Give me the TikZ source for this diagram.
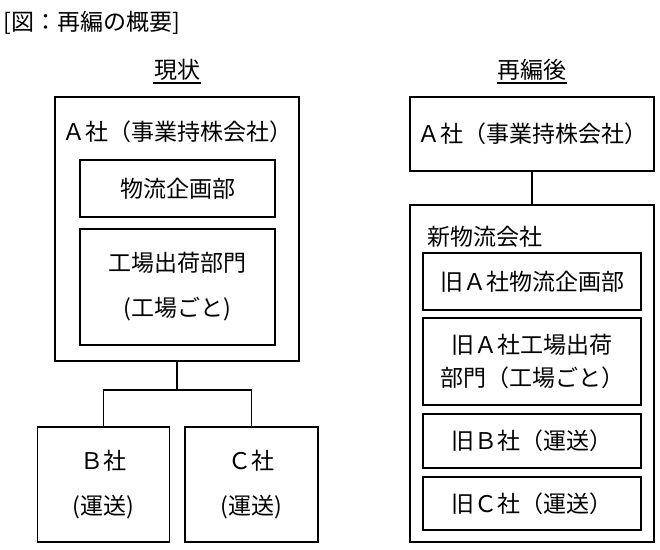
\documentclass[tikz,border=0pt]{standalone}
\usepackage{fontspec}
\setmainfont{Noto Sans CJK JP}
\usetikzlibrary{calc}

\begin{document}
\begin{tikzpicture}[x=1pt, y=-1pt, line width=1.1pt,
		font=\fontsize{23pt}{45pt}\selectfont,
		box/.style={draw, inner sep=0pt, align=center},
		heading/.style={inner sep=0pt},
		narrow/.style={font=\fontsize{23pt}{33pt}\selectfont}]
	
	\useasboundingbox (0,0) rectangle (660,549);
	
	% Constants
	\def\xl{177}
	\def\xr{532}
	\def\wo{244pt} % outer box width
	\def\wi{218pt} % inner box width (right)
	
	\node[heading, anchor=west, font=\fontsize{23pt}{27pt}\selectfont] (title) at (3,23) {[図：再編の概要]};
	
	% === CURRENT ===
	\node[heading] (hdNow) at (\xl,70) {現状};
	\draw ($(hdNow.west)+(0,13)$) -- ($(hdNow.east)+(0,13)$);
	
	\node[box, minimum width=\wo, minimum height=264pt] (genA) at (\xl,229) {};
	\node (genAtxt) at (\xl,132) {Ａ社（事業持株会社）};
	\node[box, minimum width=195pt, minimum height=57pt] (genPlan) at (177.5,188.5) {物流企画部};
	\node[box, minimum width=195pt, minimum height=116pt] (genShip) at (177.5,287) {工場出荷部門\\(工場ごと)};
	
	\node[box, minimum width=132pt, minimum height=115pt] (genB) at (103.5,484.5) {Ｂ社\\(運送)};
	\node[box, minimum width=133pt, minimum height=115pt] (genC) at (251.5,484.5) {Ｃ社\\(運送)};
	
	\coordinate (jn) at (\xl,390);
	\draw (genA.south) -- (jn);
	\draw (genB.north) |- (jn) -| (genC.north);
	
	% === AFTER ===
	\node[heading] (hdNew) at (\xr,70) {再編後};
	\draw ($(hdNew.west)+(0,13)$) -- ($(hdNew.east)+(0,13)$);
	
	\node[box, minimum width=\wo, minimum height=74pt] (newA) at (\xr,134) {Ａ社（事業持株会社）};
	\node[box, minimum width=\wo, minimum height=337pt] (newCo) at (\xr,373.5) {};
	\node[anchor=west, inner sep=0pt] (newCotxt) at (427,237) {新物流会社};
	
	\node[box, minimum width=\wi, minimum height=57pt] (oldPlan) at (\xr,281.5) {旧Ａ社物流企画部};
	\node[box, narrow, minimum width=\wi, minimum height=87pt] (oldShip) at (\xr,361.5) {旧Ａ社工場出荷\\部門（工場ごと）};
	\node[box, minimum width=\wi, minimum height=54pt] (oldB) at (\xr,441) {旧Ｂ社（運送）};
	\node[box, minimum width=\wi, minimum height=53pt] (oldC) at (\xr,503.5) {旧Ｃ社（運送）};
	
	\draw (newA.south) -- (newCo.north);
	
\end{tikzpicture}
\end{document}
